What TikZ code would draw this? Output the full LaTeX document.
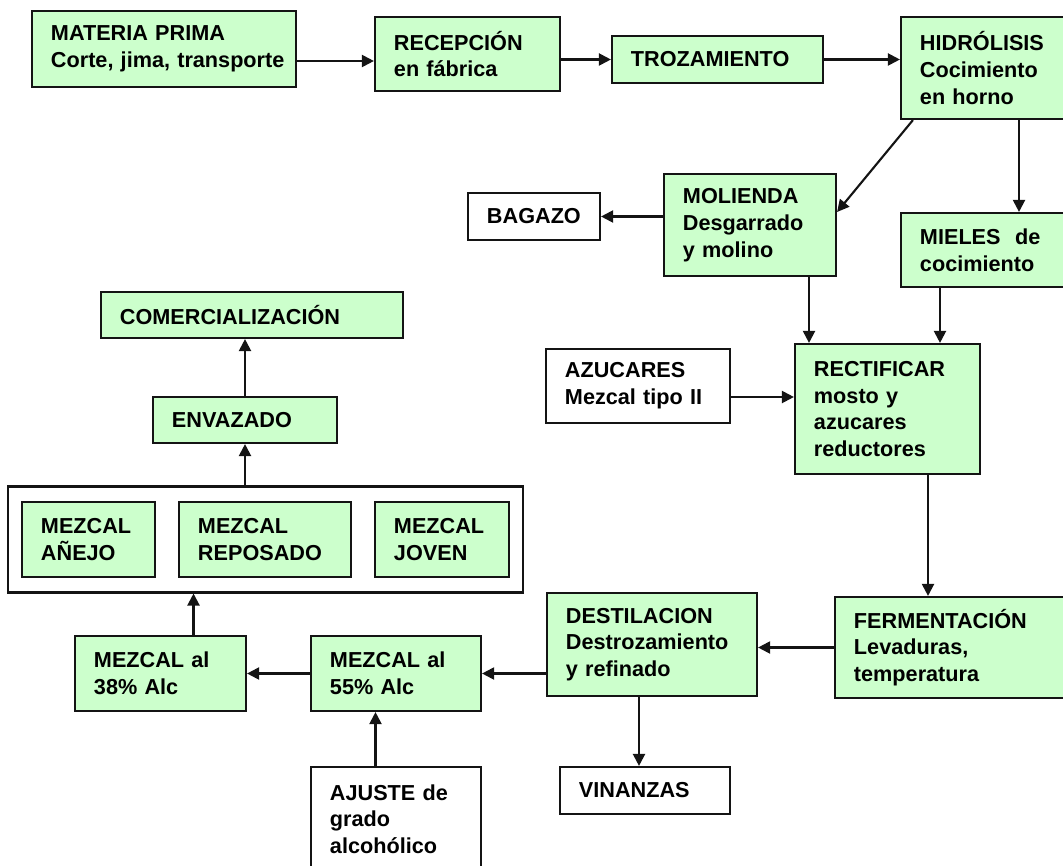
\documentclass[tikz,border=0pt]{standalone}
\usepackage{fontspec}
\setmainfont{Liberation Sans}
\usepackage{tikz}
\usetikzlibrary{arrows.meta,positioning,fit}
\usepackage{xcolor}
\definecolor{stagegreen}{RGB}{204,255,204}
\definecolor{linegray}{RGB}{20,20,20}
\newcommand{\stagefont}{\fontsize{15.4pt}{19pt}\selectfont\bfseries}

\begin{document}
\begin{tikzpicture}[x=0.025cm, y=-0.025cm,
    stage/.style={draw=linegray, line width=1.5pt, fill=stagegreen, align=left,
      inner xsep=0.475cm, inner ysep=2pt, font=\stagefont},
    outcome/.style={stage, fill=white},
    arr/.style={-{Triangle[length=0.3cm,width=0.3cm]}, line width=1.5pt, draw=linegray}]
  \useasboundingbox (0,0) rectangle (1063,866);
  % top row
  \node[stage, text width=5.65cm, minimum height=1.9cm] (mp) at (164,49) {MATERIA PRIMA\\\mbox{Corte, jima, transporte}};
  \node[stage, text width=3.675cm, minimum height=1.85cm] (rec) at (467.5,54) {RECEPCIÓN\\en fábrica};
  \node[stage, text width=4.325cm, minimum height=1.175cm] (troz) at (717.5,59.5) {TROZAMIENTO};
  \node[stage, text width=3.4cm, minimum height=2.55cm] (hidro) at (988,68) {HIDRÓLISIS\\Cocimiento\\en horno};
  % second row
  \node[outcome, text width=2.35cm, minimum height=1.175cm] (bagazo) at (534,216.5) {BAGAZO};
  \node[stage, text width=3.35cm, minimum height=2.55cm] (molienda) at (750,225) {MOLIENDA\\Desgarrado\\y molino};
  \node[stage, text width=3.4cm, minimum height=1.85cm] (mieles) at (988,250) {MIELES\ \ de\\cocimiento};
  % rectification
  \node[outcome, text width=3.65cm, minimum height=1.85cm] (azuc) at (638,386) {AZUCARES\\Mezcal tipo II};
  \node[stage, text width=3.675cm, minimum height=3.25cm] (rect) at (887.5,409) {RECTIFICAR\\mosto y\\azucares\\reductores};
  % fermentation and distillation
  \node[stage, text width=5.05cm, minimum height=2.525cm] (ferm) at (955,647.5) {FERMENTACIÓN\\Levaduras,\\temperatura};
  \node[stage, text width=4.3cm, minimum height=2.575cm] (destil) at (652,644.5) {DESTILACION\\Destrozamiento\\y refinado};
  \node[outcome, text width=3.3cm, minimum height=1.175cm] (vinaz) at (645,790.5) {VINANZAS};
  \node[stage, text width=3.3cm, minimum height=1.875cm] (m55) at (396,673.5) {MEZCAL al\\55\% Alc};
  \node[stage, text width=3.325cm, minimum height=1.875cm] (m38) at (160.5,673.5) {MEZCAL al\\38\% Alc};
  \node[outcome, text width=3.3cm, minimum height=2.6cm] (ajuste) at (396,819) {AJUSTE de\\grado\\alcohólico};
  % mezcal types
  \node[stage, text width=2.375cm, minimum height=1.875cm] (anejo) at (88.5,539.5) {MEZCAL\\AÑEJO};
  \node[stage, text width=3.35cm, minimum height=1.875cm] (repos) at (265,539.5) {MEZCAL\\REPOSADO};
  \node[stage, text width=2.4cm, minimum height=1.875cm] (joven) at (442,539.5) {MEZCAL\\JOVEN};
  \node[draw=linegray, line width=1.5pt, inner xsep=0.32cm, inner ysep=0.36cm,
    fit=(anejo)(repos)(joven)] (mezcales) {};
  \node[stage, text width=3.65cm, minimum height=1.15cm] (envaz) at (245,420) {ENVAZADO};
  \node[stage, text width=6.6cm, minimum height=1.15cm] (comer) at (252,315) {COMERCIALIZACIÓN};

  % connectors
  \draw[arr] ([yshift=-0.3cm]mp.east) -- ([yshift=-0.3cm]mp.east -| rec.west);
  \draw[arr] (rec.east |- troz.west) -- (troz.west);
  \draw[arr] (troz.east) -- (troz.east -| hidro.west);
  \draw[arr] ([xshift=0.325cm]hidro.south west) -- ([yshift=0.325cm]molienda.east);
  \draw[arr] ([xshift=0.775cm]hidro.south) -- ([xshift=0.775cm]mieles.north);
  \draw[arr] (molienda.west |- bagazo.east) -- (bagazo.east);
  \draw[arr] ([xshift=1.475cm]molienda.south) -- ([xshift=1.475cm]molienda.south |- rect.north);
  \draw[arr] ([xshift=-1.2cm]mieles.south) -- ([xshift=-1.2cm]mieles.south |- rect.north);
  \draw[arr] ([yshift=-0.275cm]azuc.east) -- ([yshift=-0.275cm]azuc.east -| rect.west);
  \draw[arr] ([xshift=1.0125cm]rect.south) -- ([xshift=1.0125cm]rect.south |- ferm.north);
  \draw[arr] (ferm.west) -- (ferm.west -| destil.east);
  \draw[arr] ([xshift=-0.325cm]destil.south) -- ([xshift=-0.325cm]destil.south |- vinaz.north);
  \draw[arr] (destil.west |- m55.east) -- (m55.east);
  \draw[arr] (m55.west) -- (m38.east);
  \draw[arr] ([xshift=-0.5125cm]ajuste.north) -- ([xshift=-0.5125cm]ajuste.north |- m55.south);
  \draw[arr] ([xshift=0.825cm]m38.north) -- ([xshift=0.825cm]m38.north |- mezcales.south);
  \draw[arr] (mezcales.north -| envaz.south) -- (envaz.south);
  \draw[arr] (envaz.north) -- (envaz.north |- comer.south);
\end{tikzpicture}
\end{document}
